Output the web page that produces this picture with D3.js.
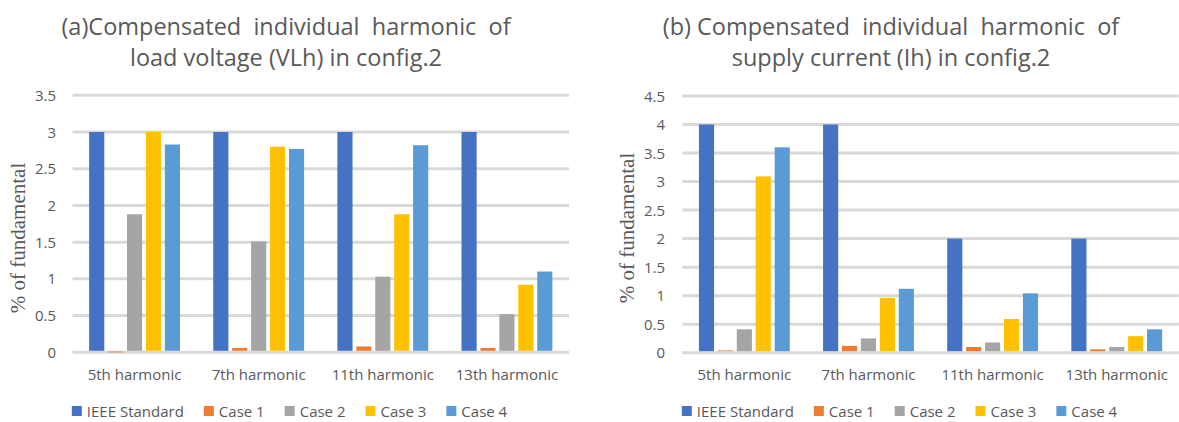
<!DOCTYPE html>
<html>
<head>
<meta charset="utf-8">
<script src="https://cdn.jsdelivr.net/npm/d3@7"></script>
<style>
  html, body { margin: 0; padding: 0; background: #ffffff; }
  svg { display: block; }
</style>
</head>
<body>
<svg id="chart" width="1179" height="422"></svg>
<script>
// ---- data ----
const categories = ["5th harmonic", "7th harmonic", "11th harmonic", "13th harmonic"];
const seriesNames = ["IEEE Standard", "Case 1", "Case 2", "Case 3", "Case 4"];
const seriesColors = ["#4472C4", "#ED7D31", "#A5A5A5", "#FFC000", "#5B9BD5"];

// (a) load voltage VLh, % of fundamental, one array per series
const vlhIEEE  = [3.0, 3.0, 3.0, 3.0];
const vlhCase1 = [0.01, 0.06, 0.08, 0.06];
const vlhCase2 = [1.88, 1.51, 1.03, 0.52];
const vlhCase3 = [3.0, 2.80, 1.88, 0.92];
const vlhCase4 = [2.83, 2.77, 2.82, 1.10];
const vlhTicks = [0, 0.5, 1, 1.5, 2, 2.5, 3, 3.5];

// (b) supply current Ih, % of fundamental
const ihIEEE  = [4.0, 4.0, 2.0, 2.0];
const ihCase1 = [0.04, 0.12, 0.10, 0.06];
const ihCase2 = [0.41, 0.25, 0.18, 0.10];
const ihCase3 = [3.09, 0.96, 0.59, 0.29];
const ihCase4 = [3.60, 1.12, 1.04, 0.41];
const ihTicks = [0, 0.5, 1, 1.5, 2, 2.5, 3, 3.5, 4, 4.5];

const titleA = ["(a)Compensated  individual  harmonic  of", "load voltage (VLh) in config.2"];
const titleB = ["(b) Compensated  individual  harmonic  of", "supply current (Ih) in config.2"];
const yTitle = "% of fundamental";

// ---- drawing ----
const svg = d3.select("#chart");
const sans = "'Open Sans', 'Noto Sans', sans-serif";
const serif = "'Liberation Serif', 'DejaVu Serif', serif";
const textColor = "#595959";

function drawChart(cfg) {
  const g = svg.append("g");
  const x0 = d3.scaleBand().domain(categories).range([cfg.left, cfg.right]).padding(0);
  const bw = x0.bandwidth();
  const pad = bw * 0.134;
  const x1 = d3.scaleBand().domain(seriesNames).range([pad, bw - pad]).paddingInner(0.2).paddingOuter(0);
  const y = d3.scaleLinear().domain([0, cfg.max]).range([cfg.bottom, cfg.top]);

  // gridlines
  g.append("g").selectAll("line").data(cfg.ticks).join("line")
    .attr("x1", cfg.left).attr("x2", cfg.right)
    .attr("y1", d => y(d)).attr("y2", d => y(d))
    .attr("stroke", "#D9D9D9").attr("stroke-width", 3);

  // y tick labels
  g.append("g").selectAll("text").data(cfg.ticks).join("text")
    .attr("x", cfg.tickX).attr("y", d => y(d) + 5.5)
    .attr("text-anchor", "end")
    .attr("font-family", sans).attr("font-size", 15).attr("fill", textColor)
    .text(d => d3.format("")(d));

  // bars
  const rows = categories.map((c, i) => ({ cat: c, vals: cfg.series.map((s, j) => ({ name: seriesNames[j], v: s[i], color: seriesColors[j] })) }));
  g.append("g").selectAll("g").data(rows).join("g")
    .attr("transform", d => `translate(${x0(d.cat)},0)`)
    .selectAll("rect").data(d => d.vals).join("rect")
      .attr("x", d => x1(d.name))
      .attr("width", x1.bandwidth())
      .attr("y", d => y(d.v))
      .attr("height", d => y(0) - 1.5 - y(d.v) > 0 ? y(0) - 1.5 - y(d.v) : 0.8)
      .attr("fill", d => d.color);

  // category labels
  g.append("g").selectAll("text").data(categories).join("text")
    .attr("x", d => x0(d) + bw / 2).attr("y", 380)
    .attr("text-anchor", "middle")
    .attr("font-family", sans).attr("font-size", 15).attr("fill", textColor)
    .text(d => d);

  // y-axis title
  g.append("text")
    .attr("transform", `translate(${cfg.yTitleX},${cfg.yTitleY}) rotate(-90)`)
    .attr("text-anchor", "middle").attr("dominant-baseline", "central")
    .attr("font-family", serif).attr("font-size", 21).attr("fill", textColor)
    .text(yTitle);

  // title
  g.append("g").selectAll("text").data(cfg.title).join("text")
    .attr("x", cfg.titleX).attr("y", (d, i) => 35 + i * 31)
    .attr("text-anchor", "middle")
    .attr("font-family", sans).attr("font-size", 23.5).attr("fill", textColor)
    .style("white-space", "pre")
    .text(d => d);

  // legend
  const lg = g.append("g");
  const items = lg.selectAll("g").data(seriesNames).join("g");
  items.append("rect").attr("width", 10).attr("height", 10).attr("y", -5)
    .attr("fill", (d, i) => seriesColors[i]);
  items.append("text").attr("x", 15).attr("y", 5.5)
    .attr("font-family", sans).attr("font-size", 15).attr("fill", textColor)
    .text(d => d);
  let cx = 0;
  items.each(function () {
    const w = 15 + d3.select(this).select("text").node().getComputedTextLength();
    d3.select(this).attr("transform", `translate(${cx},0)`);
    cx += w + 20;
  });
  const total = cx - 20;
  lg.attr("transform", `translate(${cfg.legendX - total / 2},411)`);
}

drawChart({
  left: 72.5, right: 569, top: 95.3, bottom: 352.3, max: 3.5,
  ticks: vlhTicks, tickX: 56, yTitleX: 18, yTitleY: 238, titleX: 286, legendX: 289.5,
  series: [vlhIEEE, vlhCase1, vlhCase2, vlhCase3, vlhCase4], title: titleA
});
drawChart({
  left: 682.3, right: 1178.8, top: 96, bottom: 352.7, max: 4.5,
  ticks: ihTicks, tickX: 665, yTitleX: 627, yTitleY: 228, titleX: 891, legendX: 899.5,
  series: [ihIEEE, ihCase1, ihCase2, ihCase3, ihCase4], title: titleB
});
</script>
</body>
</html>
